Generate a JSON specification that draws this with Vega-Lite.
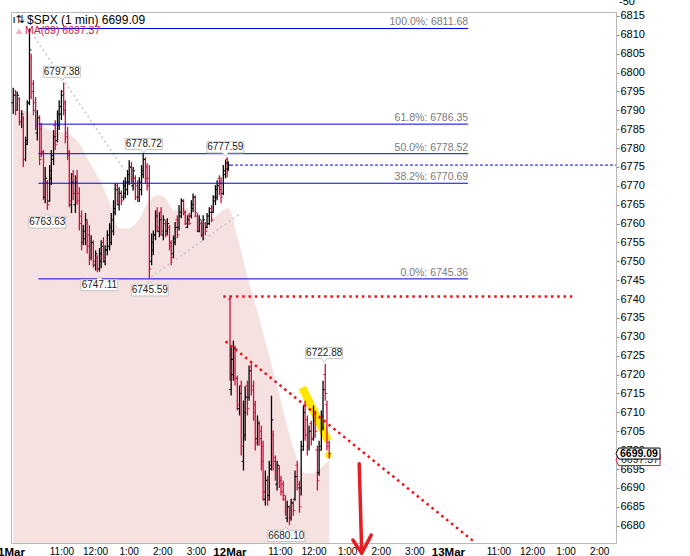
{
"$schema":"https://vega.github.io/schema/vega-lite/v6.json",
"width":605,"height":531,
"autosize":{"type":"none"},
"padding":{"left":11,"top":12,"right":74,"bottom":13},
"config":{"view":{"stroke":"#b8b8b8"},"font":"Liberation Sans","text":{"font":"Liberation Sans"},"axis":{"labelOverlap":false,"labelFlush":false}},
"datasets":{
"bars":[
{"t":4,"o":6792,"h":6796,"l":6789,"c":6794},
{"t":8,"o":6794,"h":6795.4,"l":6788.7,"c":6790},
{"t":11,"o":6790,"h":6795,"l":6789.8,"c":6794},
{"t":15,"o":6793,"h":6793.5,"l":6786,"c":6787},
{"t":19,"o":6787,"h":6790,"l":6785.3,"c":6789},
{"t":22,"o":6788,"h":6788.5,"l":6775,"c":6777},
{"t":26,"o":6777,"h":6783,"l":6776.5,"c":6782},
{"t":29,"o":6781,"h":6792.7,"l":6780.8,"c":6792},
{"t":33,"o":6792,"h":6811.7,"l":6791.4,"c":6806},
{"t":36,"o":6804,"h":6805,"l":6793,"c":6795},
{"t":40,"o":6797,"h":6798,"l":6788.7,"c":6790},
{"t":44,"o":6792,"h":6793.5,"l":6784.8,"c":6786},
{"t":47,"o":6784,"h":6790,"l":6782,"c":6788},
{"t":51,"o":6788,"h":6788.7,"l":6775.5,"c":6777},
{"t":54,"o":6785,"h":6786.6,"l":6777.6,"c":6779},
{"t":58,"o":6779,"h":6779.5,"l":6766.2,"c":6768},
{"t":61,"o":6767,"h":6775,"l":6765.4,"c":6772},
{"t":65,"o":6771,"h":6771.5,"l":6763.63,"c":6765},
{"t":69,"o":6766,"h":6775.5,"l":6765.8,"c":6774},
{"t":72,"o":6772,"h":6779.5,"l":6770.2,"c":6778},
{"t":76,"o":6777,"h":6784.8,"l":6775.5,"c":6783},
{"t":79,"o":6786,"h":6787.4,"l":6779.5,"c":6781},
{"t":83,"o":6782,"h":6790,"l":6781.5,"c":6789},
{"t":86,"o":6786,"h":6792.7,"l":6784.8,"c":6791},
{"t":90,"o":6789,"h":6795.4,"l":6787.4,"c":6794},
{"t":94,"o":6795,"h":6797.38,"l":6788.7,"c":6790},
{"t":97,"o":6792,"h":6792.7,"l":6781.3,"c":6783},
{"t":101,"o":6784,"h":6785.6,"l":6776.8,"c":6778},
{"t":104,"o":6779,"h":6779.5,"l":6764.3,"c":6766},
{"t":108,"o":6765,"h":6773.4,"l":6762.8,"c":6771},
{"t":111,"o":6773,"h":6774.2,"l":6766.2,"c":6768},
{"t":115,"o":6765,"h":6772.8,"l":6762.8,"c":6771},
{"t":118,"o":6772,"h":6774.2,"l":6765,"c":6766},
{"t":122,"o":6768,"h":6769.6,"l":6758.2,"c":6760},
{"t":126,"o":6762,"h":6763.5,"l":6752.9,"c":6755},
{"t":129,"o":6755,"h":6759.6,"l":6754.3,"c":6758},
{"t":133,"o":6756,"h":6762.8,"l":6754.3,"c":6761},
{"t":136,"o":6760,"h":6760.9,"l":6752.1,"c":6754},
{"t":140,"o":6757,"h":6759.6,"l":6749,"c":6751},
{"t":143,"o":6751,"h":6756.9,"l":6750.3,"c":6755},
{"t":147,"o":6755,"h":6755.6,"l":6748.4,"c":6750},
{"t":151,"o":6749,"h":6752.9,"l":6747.6,"c":6752},
{"t":154,"o":6751,"h":6751.6,"l":6747.11,"c":6748},
{"t":158,"o":6748,"h":6753.5,"l":6747.3,"c":6752},
{"t":161,"o":6750,"h":6755.6,"l":6748.2,"c":6754},
{"t":165,"o":6755,"h":6756.4,"l":6749.7,"c":6751},
{"t":168,"o":6750,"h":6754.3,"l":6749,"c":6753},
{"t":172,"o":6753,"h":6758.2,"l":6751.6,"c":6757},
{"t":176,"o":6754,"h":6760.1,"l":6752.9,"c":6759},
{"t":179,"o":6755,"h":6762.8,"l":6754.3,"c":6761},
{"t":183,"o":6758,"h":6766.2,"l":6756.9,"c":6764},
{"t":186,"o":6763,"h":6770.7,"l":6762.2,"c":6769},
{"t":190,"o":6770,"h":6770.7,"l":6764.9,"c":6766},
{"t":193,"o":6765,"h":6769.6,"l":6763.5,"c":6768},
{"t":197,"o":6768,"h":6768.8,"l":6764.9,"c":6766},
{"t":201,"o":6767,"h":6771.5,"l":6766.2,"c":6770},
{"t":204,"o":6768,"h":6772.3,"l":6766.7,"c":6771},
{"t":208,"o":6769,"h":6774.2,"l":6767.5,"c":6773},
{"t":211,"o":6771,"h":6776.8,"l":6770.2,"c":6775},
{"t":215,"o":6775,"h":6776.3,"l":6770.7,"c":6772},
{"t":218,"o":6770,"h":6775,"l":6768.8,"c":6774},
{"t":222,"o":6772,"h":6772.8,"l":6766.2,"c":6767},
{"t":226,"o":6770,"h":6771.5,"l":6765.7,"c":6767},
{"t":229,"o":6767,"h":6772.3,"l":6765.7,"c":6771},
{"t":233,"o":6769,"h":6775.5,"l":6767.5,"c":6774},
{"t":236,"o":6773,"h":6778.72,"l":6772,"c":6777},
{"t":240,"o":6777,"h":6777.6,"l":6770.7,"c":6772},
{"t":243,"o":6775,"h":6776,"l":6768.8,"c":6770},
{"t":247,"o":6772,"h":6775.5,"l":6745.59,"c":6748},
{"t":251,"o":6750,"h":6757.4,"l":6749,"c":6755},
{"t":254,"o":6753,"h":6758.2,"l":6751.6,"c":6757},
{"t":258,"o":6757,"h":6763.5,"l":6755.6,"c":6762},
{"t":261,"o":6763,"h":6764.3,"l":6757.7,"c":6759},
{"t":265,"o":6758,"h":6763,"l":6756.4,"c":6761},
{"t":268,"o":6763,"h":6764.3,"l":6756.9,"c":6758},
{"t":272,"o":6757,"h":6762.2,"l":6755.6,"c":6761},
{"t":276,"o":6760,"h":6760.9,"l":6756.4,"c":6757},
{"t":279,"o":6758,"h":6761.4,"l":6756.9,"c":6760},
{"t":283,"o":6759,"h":6759.6,"l":6752.9,"c":6754},
{"t":286,"o":6755,"h":6755.6,"l":6749,"c":6751},
{"t":290,"o":6752,"h":6756.9,"l":6750.8,"c":6756},
{"t":293,"o":6755,"h":6760.4,"l":6754.3,"c":6759},
{"t":297,"o":6761,"h":6762.2,"l":6756.1,"c":6757},
{"t":300,"o":6759,"h":6764.9,"l":6758.2,"c":6763},
{"t":304,"o":6762,"h":6766.7,"l":6761.4,"c":6766},
{"t":308,"o":6766,"h":6766.5,"l":6762.2,"c":6763},
{"t":311,"o":6763,"h":6763.5,"l":6759.6,"c":6760},
{"t":315,"o":6759,"h":6762.2,"l":6758.8,"c":6761},
{"t":318,"o":6762,"h":6762.8,"l":6759.6,"c":6760},
{"t":322,"o":6762,"h":6766.2,"l":6761.4,"c":6765},
{"t":325,"o":6764,"h":6768,"l":6763,"c":6767},
{"t":329,"o":6767,"h":6767.5,"l":6761.7,"c":6763},
{"t":333,"o":6762,"h":6762.8,"l":6757.7,"c":6759},
{"t":336,"o":6758,"h":6762.2,"l":6757.7,"c":6761},
{"t":340,"o":6760,"h":6760.9,"l":6756.4,"c":6757},
{"t":343,"o":6757,"h":6762.2,"l":6755.6,"c":6761},
{"t":347,"o":6760,"h":6760.4,"l":6756.9,"c":6758},
{"t":350,"o":6759,"h":6762.8,"l":6758.8,"c":6762},
{"t":354,"o":6760,"h":6764.3,"l":6759.6,"c":6763},
{"t":358,"o":6764,"h":6764.9,"l":6760.4,"c":6761},
{"t":361,"o":6763,"h":6767.5,"l":6762.8,"c":6767},
{"t":365,"o":6766,"h":6770.2,"l":6764.9,"c":6769},
{"t":368,"o":6767,"h":6771.5,"l":6766.2,"c":6770},
{"t":372,"o":6772,"h":6772.8,"l":6767.5,"c":6769},
{"t":375,"o":6771,"h":6772.3,"l":6765.4,"c":6767},
{"t":379,"o":6768,"h":6775.5,"l":6767.5,"c":6774},
{"t":383,"o":6773,"h":6776.8,"l":6772,"c":6776},
{"t":386,"o":6777,"h":6777.59,"l":6772.3,"c":6774},
{"t":388,"o":6774.5,"h":6776.5,"l":6774,"c":6775.5},
{"t":391,"o":6740,"h":6740.8,"l":6718.4,"c":6721},
{"t":393,"o":6716,"h":6727.7,"l":6714.5,"c":6724},
{"t":397,"o":6720,"h":6729,"l":6718.4,"c":6727},
{"t":400,"o":6727,"h":6727.7,"l":6717.1,"c":6719},
{"t":404,"o":6719,"h":6719.8,"l":6710.5,"c":6712},
{"t":408,"o":6711,"h":6717.1,"l":6709.2,"c":6715},
{"t":411,"o":6717,"h":6718.4,"l":6698.6,"c":6701},
{"t":415,"o":6697,"h":6713.1,"l":6694.6,"c":6710},
{"t":418,"o":6704,"h":6716.9,"l":6702.5,"c":6714},
{"t":422,"o":6717,"h":6718.4,"l":6709.2,"c":6711},
{"t":425,"o":6714,"h":6722.4,"l":6713.1,"c":6721},
{"t":429,"o":6722,"h":6723,"l":6714.5,"c":6716},
{"t":433,"o":6717,"h":6718.4,"l":6707.8,"c":6710},
{"t":436,"o":6712,"h":6713.1,"l":6699.9,"c":6702},
{"t":440,"o":6703,"h":6709.2,"l":6701.2,"c":6707},
{"t":443,"o":6707,"h":6707.8,"l":6701.2,"c":6703},
{"t":447,"o":6705,"h":6706.5,"l":6694.6,"c":6697},
{"t":450,"o":6701,"h":6702.5,"l":6686.6,"c":6689},
{"t":454,"o":6687,"h":6694.6,"l":6685.3,"c":6692},
{"t":458,"o":6692,"h":6693.2,"l":6685.3,"c":6687},
{"t":461,"o":6688,"h":6697.2,"l":6686.6,"c":6695},
{"t":465,"o":6696,"h":6714.4,"l":6694.6,"c":6708},
{"t":468,"o":6704,"h":6705.2,"l":6694.6,"c":6697},
{"t":472,"o":6698,"h":6698.6,"l":6691.9,"c":6694},
{"t":475,"o":6691,"h":6697.2,"l":6689.3,"c":6696},
{"t":479,"o":6695,"h":6695.9,"l":6690,"c":6692},
{"t":482,"o":6692,"h":6693.2,"l":6688,"c":6689},
{"t":486,"o":6691,"h":6691.9,"l":6686.6,"c":6688},
{"t":490,"o":6687,"h":6688,"l":6682.6,"c":6684},
{"t":493,"o":6682,"h":6686.6,"l":6680.9,"c":6685},
{"t":497,"o":6685,"h":6685.3,"l":6680.1,"c":6682},
{"t":500,"o":6682,"h":6687.1,"l":6681.3,"c":6686},
{"t":504,"o":6686,"h":6686.6,"l":6682.6,"c":6684},
{"t":507,"o":6687,"h":6694.6,"l":6686.6,"c":6693},
{"t":511,"o":6696,"h":6697.2,"l":6689.3,"c":6690},
{"t":515,"o":6691,"h":6691.9,"l":6683.4,"c":6685},
{"t":518,"o":6690,"h":6702.5,"l":6688,"c":6700},
{"t":522,"o":6701,"h":6711.8,"l":6699.9,"c":6710},
{"t":525,"o":6712,"h":6713.1,"l":6702.5,"c":6704},
{"t":529,"o":6708,"h":6709.2,"l":6698.6,"c":6701},
{"t":532,"o":6701,"h":6706.5,"l":6699.9,"c":6705},
{"t":536,"o":6707,"h":6707.8,"l":6701.2,"c":6703},
{"t":540,"o":6703,"h":6711.8,"l":6702.5,"c":6710},
{"t":543,"o":6710,"h":6710.5,"l":6703.3,"c":6705},
{"t":547,"o":6700,"h":6701.2,"l":6689.3,"c":6692},
{"t":550,"o":6694,"h":6702.5,"l":6693.2,"c":6700},
{"t":554,"o":6701,"h":6710.5,"l":6699.9,"c":6709},
{"t":557,"o":6706,"h":6718.4,"l":6705.2,"c":6716},
{"t":561,"o":6720,"h":6722.88,"l":6713.1,"c":6715},
{"t":564,"o":6712,"h":6713.1,"l":6699.9,"c":6702},
{"t":568,"o":6701,"h":6702.5,"l":6697.8,"c":6699.09}
],
"ma":[
{"t":4,"p":6788.7},{"t":18.6,"p":6790.1},{"t":41.7,"p":6788.7},{"t":66.7,"p":6784.8},{"t":95.3,"p":6784.0},{"t":120.2,"p":6781.6},{"t":138,"p":6776.8},{"t":161.3,"p":6770.7},{"t":179,"p":6764.3},{"t":191.6,"p":6758.8},{"t":209.4,"p":6758.8},{"t":227.3,"p":6760.9},{"t":245.1,"p":6765.7},{"t":263,"p":6767.5},{"t":273.7,"p":6767.0},{"t":291.5,"p":6763.5},{"t":309.4,"p":6764.3},{"t":327.2,"p":6762.2},{"t":345,"p":6760.1},{"t":362.9,"p":6761.7},{"t":387.9,"p":6764.1},{"t":405.7,"p":6755.6},{"t":423.6,"p":6745.0},{"t":434.3,"p":6739.7},{"t":452.1,"p":6729.9},{"t":477.1,"p":6715.8},{"t":495,"p":6705.2},{"t":505.7,"p":6699.9},{"t":523.5,"p":6694.0},{"t":536,"p":6693.8},{"t":553.8,"p":6695.4},{"t":568,"p":6697.4}
],
"fib":[
{"t":49,"t2":816,"p":6811.68,"label":"100.0%: 6811.68"},
{"t":49,"t2":816,"p":6786.35,"label":"61.8%: 6786.35"},
{"t":49,"t2":816,"p":6778.52,"label":"50.0%: 6778.52"},
{"t":49,"t2":816,"p":6770.69,"label":"38.2%: 6770.69"},
{"t":49,"t2":816,"p":6745.36,"label":"0.0%: 6745.36"}
],
"grey":[
{"t":41.7,"p":6809.4,"t2":202.3,"p2":6774.2},
{"t":250.5,"p":6745.9,"t2":411,"p2":6762.8}
],
"reddot":[
{"t":379,"p":6740.7,"t2":1003,"p2":6740.7},
{"t":383,"p":6728.8,"t2":827,"p2":6675.7}
],
"bluedash":[{"t":391,"p":6775.5,"t2":1080,"p2":6775.5}],
"yellow":[{"t":520,"p":6716.6,"t2":566,"p2":6702.5}],
"yellowbox":[{"t":566.4,"p":6698.7}],
"arrow":[
{"t":621.6,"p":6696.4,"t2":626,"p2":6673.2},
{"t":610.3,"p":6676.2,"t2":626,"p2":6672.7},
{"t":643,"p":6677.5,"t2":626,"p2":6672.7}
],
"labels":[
{"t":90.8,"p":6800.2,"label":"6797.38","k":"hi"},
{"t":64.9,"p":6760.3,"label":"6763.63","k":"lo"},
{"t":157.7,"p":6743.7,"label":"6747.11","k":"lo"},
{"t":247.8,"p":6742.3,"label":"6745.59","k":"lo"},
{"t":237.1,"p":6781.1,"label":"6778.72","k":"hi"},
{"t":382.5,"p":6780.2,"label":"6777.59","k":"hi"},
{"t":559.1,"p":6725.7,"label":"6722.88","k":"hi"},
{"t":491.3,"p":6677.3,"label":"6680.10","k":"lo"}
],
"hdr":[{"t":28.6,"p":6814.06,"label":"$SPX (1 min) 6699.09"}],
"hdricontext":[{"t":2.5,"p":6814.06,"label":"ı⇅"}],
"hdrma":[{"t":25,"p":6811.02,"label":"MA(89) 6697.37"}],
"hdricon":[{"t":14.3,"p":6811.0}],
"lastma":[{"t":1080,"p":6697.37,"label":"6697.37"}],
"lastpx":[{"t":1080,"p":6699.09,"label":"6699.09"}],
"upper":[{"t":1080,"p":6818.7,"label":"-50"}]
},
"layer":[
{"data":{"name":"ma"},
 "mark":{"type":"area","fill":"#f6e1e1","interpolate":"monotone"},
 "encoding":{
  "x":{"field":"t","type":"quantitative","scale":{"domain":[0,1080],"nice":false,"zero":false},
   "axis":{"orient":"bottom","title":null,"tickCount":100,"values":[0,90,150,210,270,330,390,480,540,600,660,720,780,870,930,990,1050],
    "labelExpr":"datum.value % 390 === 0 ? ['1Mar','12Mar','13Mar'][floor(datum.value / 390)] : ((floor(9.5 + (datum.value % 390) / 60) - 1) % 12 + 1) + ':00'",
    "labelFontWeight":{"condition":{"test":"datum.value % 390 === 0","value":"bold"},"value":"normal"},
    "labelFontSize":{"condition":{"test":"datum.value % 390 === 0","value":11.5},"value":10},
    "labelFont":"Liberation Sans","labelColor":"#000000","labelPadding":3,"labelDx":2,"ticks":false,"grid":false,
    "domainColor":"#b8b8b8","labelOverlap":false,"labelFlush":false,"labelBound":false}},
  "y":{"field":"p","type":"quantitative","scale":{"domain":[6675.4,6816.05],"nice":false,"zero":false},
   "axis":{"orient":"right","title":null,"tickCount":100,"values":[6680,6685,6690,6695,6700,6705,6710,6715,6720,6725,6730,6735,6740,6745,6750,6755,6760,6765,6770,6775,6780,6785,6790,6795,6800,6805,6810,6815],
    "format":"d","labelFont":"Liberation Sans","labelFontSize":11,"labelColor":"#000000","tickSize":3,"tickColor":"#888888","labelPadding":1,"grid":false,"domainColor":"#b8b8b8","labelOverlap":false,"labelFlush":false}},
  "y2":{"datum":6675.4}
 }},
{"data":{"name":"yellow"},
 "mark":{"type":"rule","stroke":"#ffe600","strokeWidth":8,"strokeCap":"butt"},
 "encoding":{
  "x":{"field":"t","type":"quantitative"},
  "y":{"field":"p","type":"quantitative"},
  "x2":{"field":"t2"},"y2":{"field":"p2"}}},
{"data":{"name":"yellowbox"},
 "mark":{"type":"point","shape":"square","filled":true,"fill":"#ffe600","opacity":1,"size":30},
 "encoding":{
  "x":{"field":"t","type":"quantitative"},
  "y":{"field":"p","type":"quantitative"}}},
{"data":{"name":"grey"},
 "mark":{"type":"rule","stroke":"#c4c4c4","strokeWidth":1.5,"strokeDash":[2,3]},
 "encoding":{
  "x":{"field":"t","type":"quantitative"},
  "y":{"field":"p","type":"quantitative"},
  "x2":{"field":"t2"},"y2":{"field":"p2"}}},
{"data":{"name":"bars"},
 "mark":{"type":"rule","strokeWidth":1.3},
 "encoding":{
  "x":{"field":"t","type":"quantitative"},
  "y":{"field":"l","type":"quantitative"},
  "y2":{"field":"h"},
  "color":{"condition":{"test":"datum.c >= datum.o","value":"#000000"},"value":"#d20f3c"}}},
{"data":{"name":"bars"},
 "mark":{"type":"point","shape":"M-1,0H0","filled":false,"size":16,"strokeWidth":1,"opacity":1},
 "encoding":{
  "x":{"field":"t","type":"quantitative"},
  "y":{"field":"o","type":"quantitative"},
  "color":{"condition":{"test":"datum.c >= datum.o","value":"#000000"},"value":"#d20f3c"}}},
{"data":{"name":"bars"},
 "mark":{"type":"point","shape":"M0,0H1","filled":false,"size":16,"strokeWidth":1,"opacity":1},
 "encoding":{
  "x":{"field":"t","type":"quantitative"},
  "y":{"field":"c","type":"quantitative"},
  "color":{"condition":{"test":"datum.c >= datum.o","value":"#000000"},"value":"#d20f3c"}}},
{"data":{"name":"fib"},
 "mark":{"type":"rule","stroke":"#0000ee","strokeWidth":1},
 "encoding":{
  "x":{"field":"t","type":"quantitative"},
  "y":{"field":"p","type":"quantitative"},
  "x2":{"field":"t2"}}},
{"data":{"name":"fib"},
 "mark":{"type":"text","align":"right","baseline":"alphabetic","dy":-3,"fontSize":10.5,"color":"#7a7a7a"},
 "encoding":{
  "x":{"field":"t2","type":"quantitative"},
  "y":{"field":"p","type":"quantitative"},
  "text":{"field":"label"}}},
{"data":{"name":"bluedash"},
 "mark":{"type":"rule","stroke":"#0000ee","strokeWidth":1,"strokeDash":[3,2]},
 "encoding":{
  "x":{"field":"t","type":"quantitative"},
  "y":{"field":"p","type":"quantitative"},
  "x2":{"field":"t2"},"y2":{"field":"p2"}}},
{"data":{"name":"reddot"},
 "mark":{"type":"rule","stroke":"#e8141c","strokeWidth":2.5,"strokeDash":[2.5,3.8]},
 "encoding":{
  "x":{"field":"t","type":"quantitative"},
  "y":{"field":"p","type":"quantitative"},
  "x2":{"field":"t2"},"y2":{"field":"p2"}}},
{"data":{"name":"labels"},
 "mark":{"type":"point","filled":true,"fill":"#ffffff","stroke":"#c4c4c4","strokeWidth":1,"opacity":1,"size":1369},
 "encoding":{
  "x":{"field":"t","type":"quantitative"},
  "y":{"field":"p","type":"quantitative"},
  "shape":{"field":"k","type":"nominal","legend":null,"scale":{"domain":["hi","lo"],"range":["M-1,-0.3H1V0.3H0.15L0,0.48L-0.15,0.3H-1Z","M-1,0.3H1V-0.3H0.15L0,-0.48L-0.15,-0.3H-1Z"]}}}},
{"data":{"name":"labels"},
 "mark":{"type":"text","align":"center","baseline":"middle","fontSize":10,"color":"#222222"},
 "encoding":{
  "x":{"field":"t","type":"quantitative"},
  "y":{"field":"p","type":"quantitative"},
  "text":{"field":"label"}}},
{"data":{"name":"arrow"},
 "mark":{"type":"rule","stroke":"#e31e24","strokeWidth":3.5,"strokeCap":"round"},
 "encoding":{
  "x":{"field":"t","type":"quantitative"},
  "y":{"field":"p","type":"quantitative"},
  "x2":{"field":"t2"},"y2":{"field":"p2"}}},
{"data":{"name":"hdricontext"},
 "mark":{"type":"text","align":"left","baseline":"middle","fontSize":11,"font":"DejaVu Sans","color":"#000000"},
 "encoding":{
  "x":{"field":"t","type":"quantitative"},
  "y":{"field":"p","type":"quantitative"},
  "text":{"field":"label"}}},
{"data":{"name":"hdr"},
 "mark":{"type":"text","align":"left","baseline":"middle","fontSize":12,"color":"#000000"},
 "encoding":{
  "x":{"field":"t","type":"quantitative"},
  "y":{"field":"p","type":"quantitative"},
  "text":{"field":"label"}}},
{"data":{"name":"hdrma"},
 "mark":{"type":"text","align":"left","baseline":"middle","fontSize":10.5,"color":"#cf1a3a"},
 "encoding":{
  "x":{"field":"t","type":"quantitative"},
  "y":{"field":"p","type":"quantitative"},
  "text":{"field":"label"}}},
{"data":{"name":"hdricon"},
 "mark":{"type":"point","shape":"triangle-up","filled":true,"fill":"#f2b4c0","opacity":1,"size":45},
 "encoding":{
  "x":{"field":"t","type":"quantitative"},
  "y":{"field":"p","type":"quantitative"}}},
{"data":{"name":"lastma"},
 "mark":{"type":"point","shape":"M0,0L0.12,-0.25H2V0.25H0.12Z","filled":true,"fill":"#ffffff","stroke":"#d20f3c","strokeWidth":1,"opacity":1,"size":1936},
 "encoding":{
  "x":{"field":"t","type":"quantitative"},
  "y":{"field":"p","type":"quantitative"}}},
{"data":{"name":"lastma"},
 "mark":{"type":"text","align":"left","baseline":"middle","dx":5,"fontSize":10.5,"color":"#222222"},
 "encoding":{
  "x":{"field":"t","type":"quantitative"},
  "y":{"field":"p","type":"quantitative"},
  "text":{"field":"label"}}},
{"data":{"name":"lastpx"},
 "mark":{"type":"point","shape":"M0,0L0.12,-0.25H2V0.25H0.12Z","filled":true,"fill":"#ffffff","stroke":"#000000","strokeWidth":1,"opacity":1,"size":1936},
 "encoding":{
  "x":{"field":"t","type":"quantitative"},
  "y":{"field":"p","type":"quantitative"}}},
{"data":{"name":"lastpx"},
 "mark":{"type":"text","align":"left","baseline":"middle","dx":4,"fontSize":10.5,"fontWeight":"bold","color":"#000000"},
 "encoding":{
  "x":{"field":"t","type":"quantitative"},
  "y":{"field":"p","type":"quantitative"},
  "text":{"field":"label"}}},
{"data":{"name":"upper"},
 "mark":{"type":"text","align":"left","baseline":"middle","dx":3,"fontSize":11,"color":"#000000"},
 "encoding":{
  "x":{"field":"t","type":"quantitative"},
  "y":{"field":"p","type":"quantitative"},
  "text":{"field":"label"}}}
]
}
